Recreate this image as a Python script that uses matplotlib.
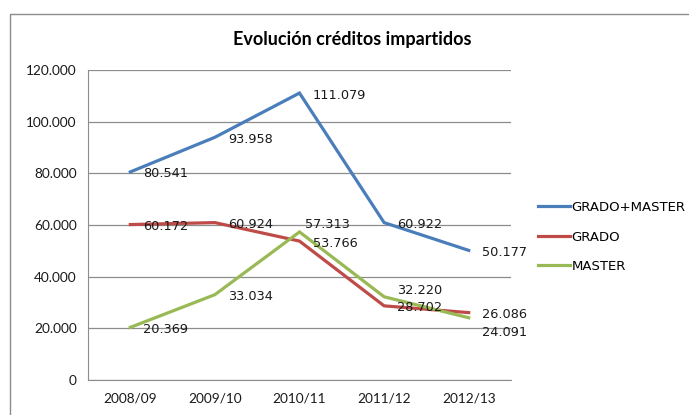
import matplotlib
matplotlib.use("Agg")
import matplotlib.pyplot as plt
from matplotlib.patches import Rectangle

categories = ["2008/09", "2009/10", "2010/11", "2011/12", "2012/13"]
grado_master = [80541, 93958, 111079, 60922, 50177]
grado = [60172, 60924, 53766, 28702, 26086]
master = [20369, 33034, 57313, 32220, 24091]
yticks = [0, 20000, 40000, 60000, 80000, 100000, 120000]
title = "Evolución créditos impartidos"

series = [
    ("GRADO+MASTER", grado_master, "#4A7EBB"),
    ("GRADO", grado, "#BE4B48"),
    ("MASTER", master, "#98B954"),
]

# label offsets in pixels (dx, dy) for special cases
label_offsets = {
    ("MASTER", 2): (6, 7),
    ("MASTER", 3): (13, 6),
    ("MASTER", 4): (13, -15),
}

def fmt(v):
    if v == 0:
        return "0"
    return f"{v:,}".replace(",", ".")

fig = plt.figure(figsize=(6.89, 4.15), dpi=100)
fig.patch.set_facecolor("white")
fig.patches.append(Rectangle((9.5 / 689, -0.05), 1.0, 1 - 14 / 415 + 0.05,
                             transform=fig.transFigure, fill=False,
                             edgecolor="#8C8C8C", linewidth=1.0))

ax = fig.add_axes([88 / 689, 1 - 380 / 415, (511 - 88) / 689, (380 - 70) / 415])
x = list(range(len(categories)))

for name, vals, color in series:
    ax.plot(x, vals, color=color, linewidth=2.3, label=name, solid_joinstyle="miter", zorder=3)
    for i, v in enumerate(vals):
        dx, dy = label_offsets.get((name, i), (13, -2))
        ax.annotate(fmt(v), (i, v), xytext=(dx, dy), textcoords="offset pixels",
                    ha="left", va="center", fontsize=9.3, color="#1a1a1a",
                    family="DejaVu Sans", zorder=4)

ax.set_xlim(-0.5, len(categories) - 0.5)
ax.set_ylim(0, 120000)
ax.set_yticks(yticks)
ax.set_yticklabels([fmt(v) for v in yticks], fontsize=9.8, family="Lato", color="#1a1a1a")
ax.set_xticks(x)
ax.set_xticklabels(categories, fontsize=9.8, family="Lato", color="#1a1a1a")
ax.tick_params(length=0, pad=8)
ax.tick_params(axis="x", pad=9)
ax.grid(axis="y", color="#8C8C8C", linewidth=0.9)
ax.set_axisbelow(True)
for s in ["top", "right"]:
    ax.spines[s].set_visible(False)
ax.spines["left"].set_color("#8C8C8C")
ax.spines["bottom"].set_color("#8C8C8C")

fig.text(352 / 689, 1 - 40 / 415, title, ha="center", va="center",
         fontsize=13, fontweight="bold", family="Lato")

handles, labels = ax.get_legend_handles_labels()
fig.legend(handles, labels, loc="center left", bbox_to_anchor=(526 / 689, 1 - 237 / 415),
           frameon=False, prop={"family": "DejaVu Sans", "size": 9.5},
           handlelength=2.4, handletextpad=0.15, labelspacing=1.25)

fig.savefig("out.png", dpi=100)
